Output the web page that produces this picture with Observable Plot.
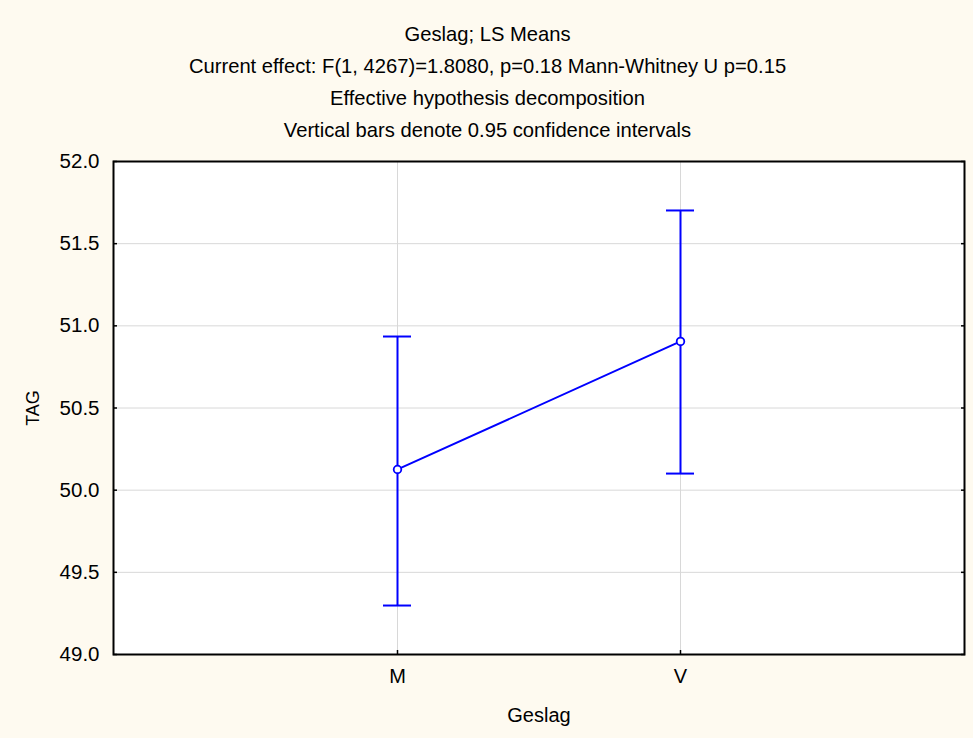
<!DOCTYPE html>
<html>
<head>
<meta charset="utf-8">
<script src="https://cdn.jsdelivr.net/npm/d3@7"></script>
<script src="https://cdn.jsdelivr.net/npm/@observablehq/plot@0.6"></script>
<style>
  html, body { margin: 0; padding: 0; background: #fefaf0; }
</style>
</head>
<body>
<div id="chart"></div>
<script>
// LS means of TAG by Geslag, with 0.95 confidence limits
const categories = ["M", "V"];
const means = [50.126, 50.905];
const lower = [49.298, 50.101];
const upper = [50.935, 51.702];
const yTicks = [49.0, 49.5, 50.0, 50.5, 51.0, 51.5, 52.0];
const titleLines = [
  "Geslag; LS Means",
  "Current effect: F(1, 4267)=1.8080, p=0.18 Mann-Whitney U p=0.15",
  "Effective hypothesis decomposition",
  "Vertical bars denote 0.95 confidence intervals"
];
const xLabel = "Geslag";
const yLabel = "TAG";

const data = categories.map((c, i) => ({geslag: c, mean: means[i], lo: lower[i], hi: upper[i]}));

const blue = "#0000ff";
const gridColor = "#d8d8d8";
const fmt = d3.format(".1f");
// title lines sit above the frame, centred on the page
const titleOffsets = [-127.3, -95.3, -63.3, -30.8];
const pageCentreShift = -51.5;

const chart = Plot.plot({
  width: 973,
  height: 738,
  marginLeft: 113,
  marginRight: 9,
  marginTop: 161,
  marginBottom: 84,
  style: {
    background: "#fefaf0",
    fontFamily: "'Liberation Sans', Arial, sans-serif",
    fontSize: "20px",
    color: "#000"
  },
  x: {type: "band", domain: categories, paddingInner: 0.9, paddingOuter: 0.95, label: null},
  y: {domain: [49, 52], label: null},
  marks: [
    Plot.frame({fill: "white"}),
    Plot.gridY(yTicks, {stroke: gridColor, strokeOpacity: 1}),
    Plot.gridX(categories, {stroke: gridColor, strokeOpacity: 1}),
    Plot.axisY(yTicks, {tickSize: -4, tickPadding: 18, tickFormat: fmt, strokeWidth: 1.5, fontSize: 20.5, label: null}),
    Plot.axisY(yTicks, {anchor: "right", tickSize: -4, tickFormat: () => "", strokeWidth: 1.5, label: null}),
    Plot.axisX(categories, {tickSize: -4, tickPadding: 18, strokeWidth: 1.5, label: null}),
    Plot.ruleX(data, {x: "geslag", y1: "lo", y2: "hi", stroke: blue, strokeWidth: 2}),
    Plot.tickY(data, {x: "geslag", y: "lo", stroke: blue, strokeWidth: 2}),
    Plot.tickY(data, {x: "geslag", y: "hi", stroke: blue, strokeWidth: 2}),
    Plot.line(data, {x: "geslag", y: "mean", stroke: blue, strokeWidth: 2}),
    Plot.dot(data, {x: "geslag", y: "mean", r: 3.8, stroke: blue, strokeWidth: 1.8, fill: "white"}),
    Plot.frame({stroke: "#000", strokeWidth: 2}),
    ...titleLines.map((t, i) => Plot.text([t], {
      frameAnchor: "top", lineAnchor: "middle",
      dx: pageCentreShift, dy: titleOffsets[i], text: d => d, fontSize: 20.2
    })),
    Plot.text([yLabel], {
      frameAnchor: "left", lineAnchor: "middle", textAnchor: "middle",
      dx: -80.5, rotate: -90, text: d => d, fontSize: 18
    }),
    Plot.text([xLabel], {frameAnchor: "bottom", lineAnchor: "middle", dy: 61, text: d => d})
  ]
});

document.getElementById("chart").appendChild(chart);
</script>
</body>
</html>
